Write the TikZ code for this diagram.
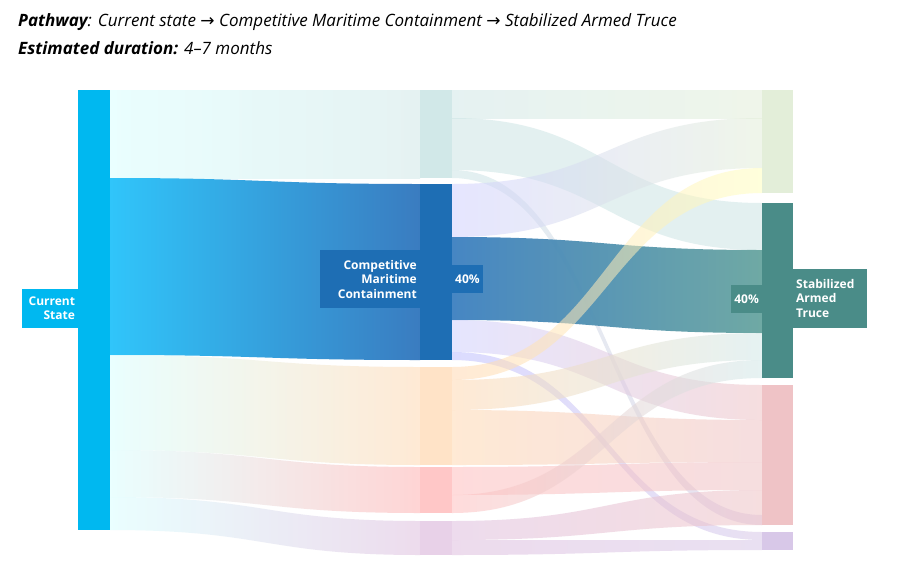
\documentclass[tikz,border=0pt]{standalone}
\usepackage{fontspec}
\setmainfont{Open Sans}
\newfontfamily\arrfont{DejaVu Sans}
\definecolor{cscol}{RGB}{0,184,240}
\definecolor{blcol}{RGB}{30,110,180}
\definecolor{tlcol}{RGB}{74,140,136}
\definecolor{bfa}{RGB}{48,197,250}
\definecolor{bfb}{RGB}{58,124,192}
\definecolor{tfa}{RGB}{61,128,192}
\definecolor{tfb}{RGB}{104,165,160}
\definecolor{grn}{RGB}{227,238,217}
\definecolor{pnk}{RGB}{239,195,198}
\definecolor{lav}{RGB}{216,200,232}
\begin{document}
\begin{tikzpicture}[x=1pt,y=-1pt,
  lbl/.style={fill=#1,text=white,font=\bfseries\fontsize{12}{14.5}\selectfont,inner sep=3pt,align=right},
  ttl/.style={anchor=west,font=\itshape\fontsize{17}{20}\selectfont,inner sep=0pt}]
\useasboundingbox[fill=white] (0,0) rectangle (900,582);
\newcommand\band[8]{\shade[left color=#7,right color=#8,opacity=0.55]
 (#1,#2) .. controls ({(#1+#4)/2},#2) and ({(#1+#4)/2},#5) .. (#4,#5)
 -- (#4,#6) .. controls ({(#1+#4)/2},#6) and ({(#1+#4)/2},#3) .. (#1,#3) -- cycle;}
% left -> middle
\band{110}{90}{178}{420}{90}{178}{cyan!15}{teal!18}
\shade[left color=bfa,right color=bfb]
 (110,178) .. controls (265,178) and (265,184) .. (420,184) -- (420,360) .. controls (265,360) and (265,355) .. (110,355) -- cycle;
\band{110}{355}{450}{420}{367}{465}{cyan!15}{orange!30}
\band{110}{450}{497}{420}{467}{513}{cyan!15}{red!30}
\band{110}{497}{530}{420}{521}{555}{cyan!15}{violet!25}
% middle -> right
\band{452}{90}{118}{762}{90}{118}{teal!18}{grn}
\band{452}{118}{170}{762}{203}{250}{teal!20}{teal!20}
\band{452}{170}{178}{762}{515}{525}{teal!20}{lav}
\band{452}{184}{237}{762}{118}{168}{blue!18}{grn}
\shade[left color=tfa,right color=tfb,opacity=0.95]
 (452,237) .. controls (607,237) and (607,250) .. (762,250) -- (762,333) .. controls (607,333) and (607,320) .. (452,320) -- cycle;
\band{452}{320}{352}{762}{385}{420}{blue!18}{pnk}
\band{452}{352}{360}{762}{532}{540}{blue!25}{lav}
\band{452}{367}{380}{762}{168}{193}{orange!30}{yellow!25}
\band{452}{380}{410}{762}{333}{360}{orange!30}{teal!18}
\band{452}{410}{465}{762}{420}{462}{orange!30}{pnk}
\band{452}{467}{495}{762}{462}{490}{red!25}{pnk}
\band{452}{495}{513}{762}{360}{378}{red!25}{teal!18}
\band{452}{521}{540}{762}{490}{525}{violet!25}{pnk}
\band{452}{540}{555}{762}{540}{550}{violet!25}{lav}
% bars
\fill[cscol] (78,90) rectangle (110,530);
\node[lbl=cscol,minimum height=39pt,text width=50pt] (cs) at (50,308) {Current\\State};
\fill[teal!18] (420,90) rectangle (452,178);
\fill[blcol] (420,184) rectangle (452,360);
\fill[orange!22] (420,367) rectangle (452,465);
\fill[red!22] (420,467) rectangle (452,513);
\fill[violet!18] (420,521) rectangle (452,555);
\node[lbl=blcol,minimum height=58pt,text width=94pt,anchor=east] (cmc) at (420,279) {Competitive\\Maritime\\Containment};
\node[lbl=blcol,minimum height=28pt,anchor=west] (p1) at (452,279) {40\%};
\fill[grn] (762,90) rectangle (793,193);
\fill[tlcol] (762,203) rectangle (793,378);
\fill[pnk] (762,385) rectangle (793,525);
\fill[lav] (762,532) rectangle (793,550);
\node[lbl=tlcol,minimum height=59pt,text width=68pt,anchor=west,align=left] (sat) at (793,298) {Stabilized\\Armed\\Truce};
\node[lbl=tlcol,minimum height=28pt,anchor=east] (p2) at (762,299) {40\%};
% titles
\node[ttl] (t1) at (18,22) {\textbf{Pathway}: Current state {\arrfont\upshape →} Competitive Maritime Containment {\arrfont\upshape →} Stabilized Armed Truce};
\node[ttl] (t2) at (18,48) {\textbf{Estimated duration:} 4–7 months};
\end{tikzpicture}
\end{document}
